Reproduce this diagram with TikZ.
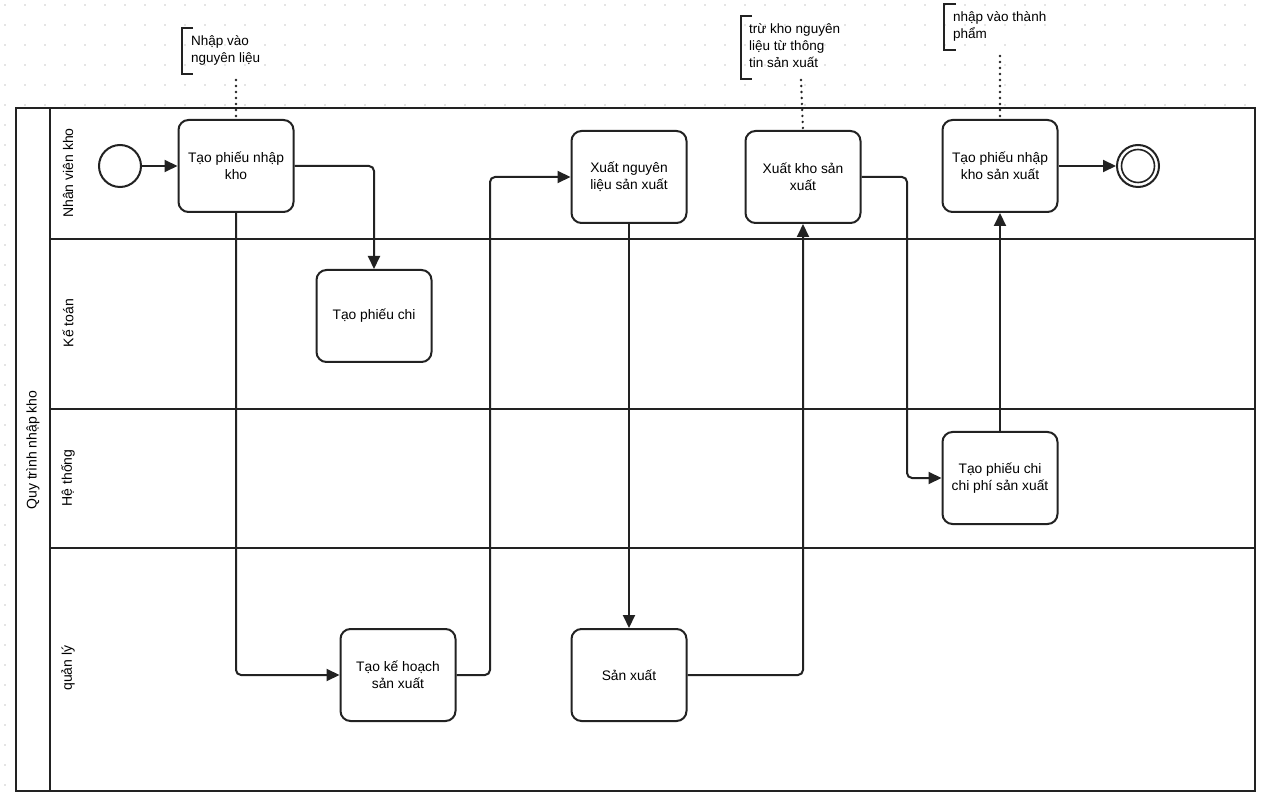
\documentclass[tikz,border=0pt]{standalone}
\usepackage{fontspec}
\setmainfont{Liberation Sans}
\usetikzlibrary{arrows.meta}
\definecolor{ink}{HTML}{222222}
\definecolor{griddot}{HTML}{C8C8C8}
\tikzset{
  task/.style={draw=ink, line width=2pt, rounded corners=10pt, fill=white,
    minimum width=115pt, minimum height=92pt, align=center,
    font=\fontsize{13.8}{17}\selectfont},
  flow/.style={ink, line width=2pt, rounded corners=5pt,
    -{Triangle[length=13pt,width=12pt]}},
  assoc/.style={ink, line width=2.6pt, dash pattern=on 0pt off 6pt, line cap=round},
  lanename/.style={rotate=90, font=\fontsize{14}{16}\selectfont},
  notetext/.style={anchor=north west, align=left, inner sep=0pt,
    font=\fontsize{13.5}{17}\selectfont},
  bracket/.style={ink, line width=2.5pt}
}
\begin{document}
\begin{tikzpicture}[x=1pt, y=-1pt]
  \useasboundingbox (0,0) rectangle (1264,799);
  % background grid
  \foreach \gx in {5,25,...,1264}
    \foreach \gy in {5,25,...,799}
      \fill[griddot] (\gx,\gy) circle [radius=0.8];
  % pool and lanes
  \draw[ink, line width=1.5pt, fill=white] (16,108) rectangle (1255,791);
  \draw[ink, line width=1.5pt] (50,108) -- (50,791);
  \draw[ink, line width=1.5pt] (50,239) -- (1255,239);
  \draw[ink, line width=1.5pt] (50,409) -- (1255,409);
  \draw[ink, line width=1.5pt] (50,548) -- (1255,548);
  \node[lanename] (pool) at (33,450) {Quy trình nhập kho};
  \node[lanename] (lane1) at (68,173) {Nhân viên kho};
  \node[lanename] (lane2) at (68,323) {Kế toán};
  \node[lanename] (lane3) at (68,478) {Hệ thống};
  \node[lanename] (lane4) at (68,668) {quản lý};

  % events and tasks
  \node[circle, draw=ink, line width=2pt, minimum size=42pt, inner sep=0pt] (start) at (120,166) {};
  \node[task] (nhapkho) at (236,166) {Tạo phiếu nhập\\kho};
  \node[task] (phieuchi) at (374,316) {Tạo phiếu chi};
  \node[task] (kehoach) at (398,675) {Tạo kế hoạch\\sản xuất};
  \node[task] (xuatnl) at (629,177) {Xuất nguyên\\liệu sản xuất};
  \node[task] (sanxuat) at (629,675) {Sản xuất};
  \node[task] (xuatkho) at (803,177) {Xuất kho sản\\xuất};
  \node[task] (chiphi) at (1000,478) {Tạo phiếu chi\\chi phí sản xuất};
  \node[task] (nhapsp) at (1000,166) {Tạo phiếu nhập\\kho sản xuất};
  \node[circle, draw=ink, line width=2pt, minimum size=42pt, inner sep=0pt] (end) at (1138,166) {};
  \draw[ink, line width=1.6pt] (end) circle [radius=16.5];

  % flows
  \draw[flow] (start) -- (nhapkho);
  \draw[flow] (nhapkho.east) -| (phieuchi.north);
  \draw[flow] (nhapkho.south) |- (kehoach.west);
  \draw[flow] (kehoach.east) -- (490,675) |- (xuatnl.west);
  \draw[flow] (xuatnl.south) -- (sanxuat.north);
  \draw[flow] (sanxuat.east) -| (xuatkho.south);
  \draw[flow] (xuatkho.east) -- (907,177) |- (chiphi.west);
  \draw[flow] (chiphi.north) -- (nhapsp.south);
  \draw[flow] (nhapsp.east) -- (end.west);

  % annotations
  \draw[bracket] (193,28) -- (182,28) -- (182,74) -- (193,74);
  \node[notetext] (note1) at (191,35) {Nhập vào\\nguyên liệu};
  \coordinate (note1end) at (236,80);
  \draw[assoc] (note1end) -- (nhapkho.north);

  \draw[bracket] (752,16) -- (741,16) -- (741,79) -- (752,79);
  \node[notetext] (note2) at (749,23) {trừ kho nguyên\\liệu từ thông\\tin sản xuất};
  \coordinate (note2end) at (801,80);
  \draw[assoc] (note2end) -- (xuatkho.north);

  \draw[bracket] (956,4) -- (944,4) -- (944,50) -- (956,50);
  \node[notetext] (note3) at (953,11) {nhập vào thành\\phẩm};
  \coordinate (note3end) at (1000,56);
  \draw[assoc] (note3end) -- (nhapsp.north);
\end{tikzpicture}
\end{document}
